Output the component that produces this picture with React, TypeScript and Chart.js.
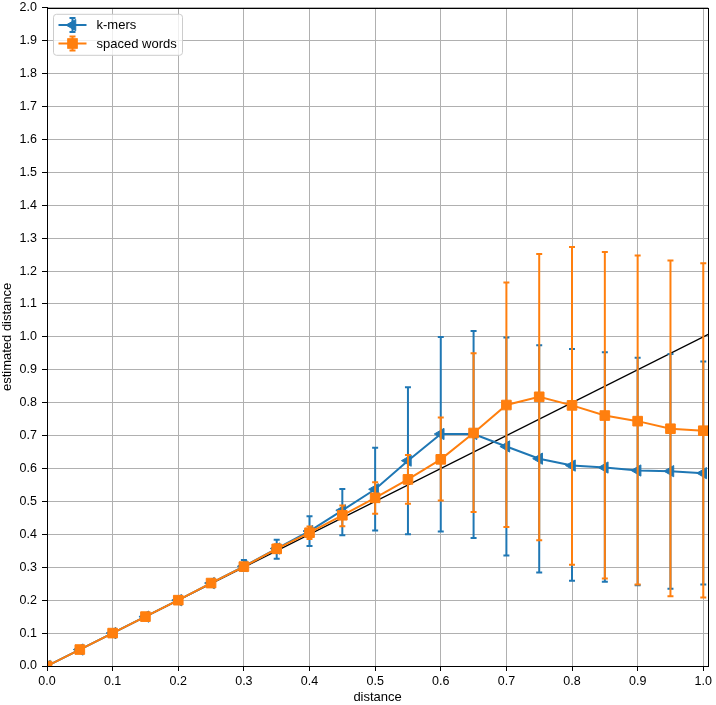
import React, { useEffect, useRef } from "react";
import { Chart, registerables } from "chart.js";

Chart.register(...registerables);

// ---------------- data ----------------
const xValues = [0, 0.05, 0.1, 0.15, 0.2, 0.25, 0.3, 0.35, 0.4, 0.45, 0.5, 0.55, 0.6, 0.65, 0.7, 0.75, 0.8, 0.85, 0.9, 0.95, 1.0];

const kmerMean = [0, 0.05, 0.1, 0.15, 0.2, 0.252, 0.303, 0.357, 0.41, 0.473, 0.537, 0.624, 0.705, 0.705, 0.667, 0.63, 0.609, 0.603, 0.594, 0.592, 0.586];
const kmerLow = [0, 0.05, 0.1, 0.149, 0.197, 0.245, 0.289, 0.326, 0.365, 0.397, 0.412, 0.4, 0.409, 0.389, 0.336, 0.284, 0.259, 0.256, 0.245, 0.235, 0.248];
const kmerHigh = [0, 0.05, 0.1, 0.151, 0.203, 0.259, 0.322, 0.384, 0.455, 0.538, 0.663, 0.847, 1.0, 1.018, 0.998, 0.975, 0.963, 0.953, 0.937, 0.948, 0.925];

const spacedMean = [0, 0.05, 0.1, 0.15, 0.2, 0.252, 0.302, 0.356, 0.405, 0.458, 0.511, 0.567, 0.628, 0.708, 0.793, 0.818, 0.792, 0.761, 0.744, 0.721, 0.715];
const spacedLow = [0, 0.05, 0.1, 0.149, 0.198, 0.247, 0.294, 0.343, 0.386, 0.425, 0.463, 0.493, 0.503, 0.468, 0.422, 0.382, 0.308, 0.266, 0.248, 0.212, 0.208];
const spacedHigh = [0, 0.05, 0.1, 0.151, 0.202, 0.257, 0.31, 0.37, 0.424, 0.488, 0.558, 0.641, 0.755, 0.95, 1.165, 1.252, 1.273, 1.258, 1.247, 1.232, 1.224];

const diagX = [0, 1.1];
const diagY = [0, 1.1];

const xTickValues = [0, 0.1, 0.2, 0.3, 0.4, 0.5, 0.6, 0.7, 0.8, 0.9, 1.0];
const yTickValues = [0, 0.1, 0.2, 0.3, 0.4, 0.5, 0.6, 0.7, 0.8, 0.9, 1.0, 1.1, 1.2, 1.3, 1.4, 1.5, 1.6, 1.7, 1.8, 1.9, 2.0];

const seriesNames = ["k-mers", "spaced words"];
const xTitle = "distance";
const yTitle = "estimated distance";

const xMin = 0;
const xMax = 1.0075;
const yMin = 0;
const yMax = 2.0;

// ---------------- styles ----------------
const BLUE = "#1f77b4";
const ORANGE = "#ff7f0e";
const FONT = "'Liberation Sans', Arial, Helvetica, sans-serif";

const errorBarPlugin = {
  id: "errorBars",
  beforeDatasetDraw(chart: any, args: any) {
    const ds = chart.data.datasets[args.index];
    if (!ds.errLow) return;
    const { ctx, chartArea } = chart;
    const xs = chart.scales.x;
    const ys = chart.scales.y;
    ctx.save();
    ctx.beginPath();
    ctx.rect(chartArea.left, chartArea.top, chartArea.right - chartArea.left, chartArea.bottom - chartArea.top);
    ctx.clip();
    ctx.strokeStyle = ds.borderColor;
    ctx.lineWidth = 2;
    ds.data.forEach((p: any, i: number) => {
      const x = xs.getPixelForValue(p.x);
      const y1 = ys.getPixelForValue(ds.errLow[i]);
      const y2 = ys.getPixelForValue(ds.errHigh[i]);
      ctx.beginPath();
      ctx.moveTo(x, y1);
      ctx.lineTo(x, y2);
      ctx.moveTo(x - 3, y1);
      ctx.lineTo(x + 3, y1);
      ctx.moveTo(x - 3, y2);
      ctx.lineTo(x + 3, y2);
      ctx.stroke();
    });
    ctx.restore();
  },
};

const framePlugin = {
  id: "frame",
  afterDatasetsDraw(chart: any) {
    const { ctx, chartArea } = chart;
    ctx.save();
    ctx.strokeStyle = "#000";
    ctx.lineWidth = 1;
    ctx.strokeRect(
      Math.round(chartArea.left) + 0.5,
      Math.round(chartArea.top) + 0.5,
      Math.round(chartArea.right - chartArea.left),
      Math.round(chartArea.bottom - chartArea.top)
    );
    ctx.restore();
  },
};

function drawTri(ctx: CanvasRenderingContext2D, x: number, y: number, r: number) {
  ctx.beginPath();
  ctx.moveTo(x - r, y);
  ctx.lineTo(x + r / 2, y - (r * Math.sqrt(3)) / 2);
  ctx.lineTo(x + r / 2, y + (r * Math.sqrt(3)) / 2);
  ctx.closePath();
  ctx.fill();
  ctx.stroke();
}

const legendPlugin = {
  id: "customLegend",
  afterDraw(chart: any) {
    const { ctx, chartArea } = chart;
    const bx = chartArea.left + 6.5;
    const by = chartArea.top + 6.5;
    const bw = 129;
    const bh = 41;
    ctx.save();
    ctx.beginPath();
    const r = 3;
    ctx.moveTo(bx + r, by);
    ctx.lineTo(bx + bw - r, by);
    ctx.quadraticCurveTo(bx + bw, by, bx + bw, by + r);
    ctx.lineTo(bx + bw, by + bh - r);
    ctx.quadraticCurveTo(bx + bw, by + bh, bx + bw - r, by + bh);
    ctx.lineTo(bx + r, by + bh);
    ctx.quadraticCurveTo(bx, by + bh, bx, by + bh - r);
    ctx.lineTo(bx, by + r);
    ctx.quadraticCurveTo(bx, by, bx + r, by);
    ctx.closePath();
    ctx.fillStyle = "rgba(255,255,255,0.8)";
    ctx.fill();
    ctx.strokeStyle = "#cccccc";
    ctx.lineWidth = 1;
    ctx.stroke();

    const colors = [BLUE, ORANGE];
    const rowsY = [by + 10.8, by + 29.2];
    const lx0 = bx + 5;
    const lx1 = bx + 33;
    const mx = (lx0 + lx1) / 2;
    rowsY.forEach((yy, i) => {
      ctx.strokeStyle = colors[i];
      ctx.fillStyle = colors[i];
      ctx.lineWidth = 2;
      ctx.beginPath();
      ctx.moveTo(lx0, yy);
      ctx.lineTo(lx1, yy);
      ctx.moveTo(mx, yy - 7);
      ctx.lineTo(mx, yy + 7);
      ctx.moveTo(mx - 3, yy - 7);
      ctx.lineTo(mx + 3, yy - 7);
      ctx.moveTo(mx - 3, yy + 7);
      ctx.lineTo(mx + 3, yy + 7);
      ctx.stroke();
      ctx.lineWidth = 1;
      if (i === 0) {
        drawTri(ctx, mx, yy, 6.5);
      } else {
        ctx.fillRect(mx - 4.8, yy - 4.8, 9.6, 9.6);
        ctx.strokeRect(mx - 4.8, yy - 4.8, 9.6, 9.6);
      }
      ctx.fillStyle = "#000";
      ctx.font = `13px ${FONT}`;
      ctx.textBaseline = "middle";
      ctx.textAlign = "left";
      ctx.fillText(seriesNames[i], bx + 43, yy + 0.5);
    });
    ctx.restore();
  },
};

export default function App() {
  const canvasRef = useRef<HTMLCanvasElement | null>(null);

  useEffect(() => {
    const canvas = canvasRef.current;
    if (!canvas) return;

    const tickFont = { family: FONT, size: 12.5 };
    const titleFont = { family: FONT, size: 13 };

    const chart = new Chart(canvas, {
      type: "scatter",
      data: {
        datasets: [
          {
            label: "y=x",
            data: diagX.map((x, i) => ({ x, y: diagY[i] })),
            showLine: true,
            borderColor: "#000",
            backgroundColor: "#000",
            borderWidth: 1.3,
            pointRadius: 0,
            order: 3,
          } as any,
          {
            label: seriesNames[0],
            data: xValues.map((x, i) => ({ x, y: kmerMean[i] })),
            errLow: kmerLow,
            errHigh: kmerHigh,
            showLine: true,
            borderColor: BLUE,
            backgroundColor: BLUE,
            borderWidth: 2,
            pointStyle: "triangle",
            pointRotation: -90,
            pointRadius: 6.5,
            pointBorderWidth: 1,
            pointBorderColor: BLUE,
            pointBackgroundColor: BLUE,
            order: 2,
          } as any,
          {
            label: seriesNames[1],
            data: xValues.map((x, i) => ({ x, y: spacedMean[i] })),
            errLow: spacedLow,
            errHigh: spacedHigh,
            showLine: true,
            borderColor: ORANGE,
            backgroundColor: ORANGE,
            borderWidth: 2,
            pointStyle: "rect",
            pointRadius: 6.8,
            pointBorderWidth: 1,
            pointBorderColor: ORANGE,
            pointBackgroundColor: ORANGE,
            order: 1,
          } as any,
        ],
      },
      options: {
        responsive: false,
        animation: false,
        devicePixelRatio: 1,
        layout: { padding: { left: 0, top: 6, right: 5, bottom: 0 } },
        plugins: {
          legend: { display: false },
          tooltip: { enabled: false },
        },
        scales: {
          x: {
            type: "linear",
            min: xMin,
            max: xMax,
            afterBuildTicks: (scale: any) => {
              scale.ticks = xTickValues.map((v) => ({ value: v }));
            },
            afterFit: (scale: any) => {
              scale.height = 39;
              scale.paddingLeft = 0;
              scale.paddingRight = 0;
            },
            ticks: {
              autoSkip: false,
              maxRotation: 0,
              includeBounds: false,
              padding: 3,
              color: "#000",
              font: tickFont,
              callback: (v: any) => Number(v).toFixed(1),
            },
            grid: { color: "#b0b0b0", lineWidth: 1, tickColor: "#000", tickLength: 5 },
            border: { display: true, color: "#000", width: 1 },
            title: { display: true, text: xTitle, color: "#000", font: titleFont, padding: { top: 0, bottom: 0 } },
          },
          y: {
            type: "linear",
            min: yMin,
            max: yMax,
            afterBuildTicks: (scale: any) => {
              scale.ticks = yTickValues.map((v) => ({ value: v }));
            },
            afterFit: (scale: any) => {
              scale.width = 47;
              scale.paddingTop = 0;
              scale.paddingBottom = 0;
            },
            ticks: {
              autoSkip: false,
              includeBounds: false,
              padding: 5,
              color: "#000",
              font: tickFont,
              callback: (v: any) => Number(v).toFixed(1),
            },
            grid: { color: "#b0b0b0", lineWidth: 1, tickColor: "#000", tickLength: 5 },
            border: { display: true, color: "#000", width: 1 },
            title: { display: true, text: yTitle, color: "#000", font: titleFont, padding: { top: 0, bottom: 0 } },
          },
        },
      } as any,
      plugins: [errorBarPlugin, framePlugin, legendPlugin],
    });

    return () => chart.destroy();
  }, []);

  return (
    <div style={{ position: "absolute", left: 0, top: 0, width: 716, height: 705, background: "#fff" }}>
      <canvas ref={canvasRef} width={716} height={705} style={{ display: "block", width: 716, height: 705 }} />
    </div>
  );
}
